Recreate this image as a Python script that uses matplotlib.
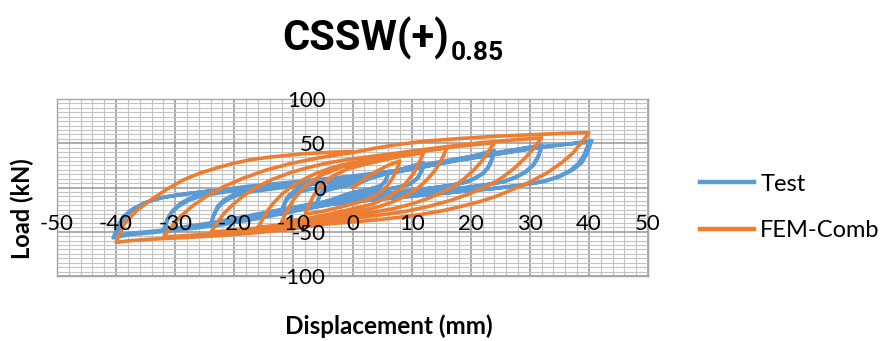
import matplotlib
matplotlib.use("Agg")
import matplotlib.pyplot as plt
from matplotlib.ticker import MultipleLocator
from matplotlib.lines import Line2D
import matplotlib.transforms as mtransforms

# ---------------- data ----------------
series_names = ["Test", "FEM-Comb"]
x_ticks = [-50, -40, -30, -20, -10, 0, 10, 20, 30, 40, 50]
y_ticks = [-100, -50, 0, 50, 100]

test_disp = [0, 1.5, 3, 4.5, 6,
             5.9, 5.5, 4.8, 3.6, 1.8, -0.6, -3.2, -6,
             -5.9, -5.5, -4.8, -3.6, -1.8, 0.6, 3.2, 6,
             5.9, 5.5, 4.8, 3.6, 1.8, -0.6, -3.2, -6,
             -5.8, -5.3, -4.2, -2.4, 0.3, 3.9, 7.9, 12,
             11.8, 11, 9.6, 7.2, 3.6, -1.2, -6.5, -12,
             -11.8, -11, -9.6, -7.2, -3.6, 1.2, 6.5, 12,
             11.8, 11, 9.6, 7.2, 3.6, -1.2, -6.5, -12,
             -11.6, -11.2, -10.6, -9.6, -8.4, -6.8, -4.8, -2, 0.6, 4, 7.8, 12, 15.7, 20, 24,
             23.5, 22.9, 22.1, 20.8, 19.2, 17, 14.4, 11, 7.2, 2.5, -2.4, -7.5, -13, -18.5, -24,
             -23.5, -22.9, -22.1, -20.8, -19.2, -17, -14.4, -11, -7.2, -2.5, 2.4, 7.5, 13, 18.5, 24,
             23.5, 22.9, 22.1, 20.8, 19.2, 17, 14.4, 11, 7.2, 2.5, -2.4, -7.5, -13, -18.5, -24,
             -23.4, -22.8, -21.8, -20.3, -18.4, -15.8, -12.8, -8.6, -4.4, 1, 6.8, 12, 17, 22, 27, 32,
             31.4, 30.6, 29.4, 27.7, 25.6, 22.5, 19.2, 14.5, 9.6, 3, -3.2, -9, -14, -19, -24, -28, -32,
             -31.4, -30.6, -29.4, -27.7, -25.6, -22.5, -19.2, -14.5, -9.6, -3, 3.2, 9, 14, 19, 24, 28, 32,
             31.4, 30.6, 29.4, 27.7, 25.6, 22.5, 19.2, 14.5, 9.6, 3, -3.2, -9, -14, -19, -24, -28, -32,
             -31.6, -31.3, -30.4, -29.1, -27, -24.75, -21, -17.5, -12, -6.6, 0, 7.9, 14, 19, 23.8, 29, 34, 38, 40.5,
             39.7, 38.8, 37.3, 35, 32.4, 28.5, 24.3, 18, 12.2, 4, -4.1, -10, -16, -22, -28, -34, -38, -40.5,
             -40.1, -39.7, -38.8, -37.3, -35, -32.5, -28.5, -24.4, -18, -12.3, -4, 3.8, 8, 13, 18.6, 24.3, 29.8, 35.4, 40,
             39.2, 38.2, 36.8, 34.5, 32, 28, 24, 18, 12, 4, -4, -10, -16, -22, -28, -34, -38, -40,
             -39.6, -39.2, -38.3, -37, -35, -32, -28, -24, -18, -12, -6, 0]
test_load = [0, 6, 10.5, 14.5, 18,
             13.1, 6.6, 2, -0.6, -3.3, -7.1, -13.5, -20,
             -15.2, -8.9, -4.5, -1.9, 0.7, 4.4, 10.7, 17,
             12.3, 6.2, 1.9, -0.6, -3.2, -6.8, -12.9, -19,
             -12.9, -4.9, 0.7, 4, 7.3, 12, 20, 28,
             20.5, 10.6, 3.6, -0.4, -4.5, -10.3, -20.1, -30,
             -22.6, -12.9, -6.1, -2.1, 1.9, 7.6, 17.3, 27,
             19.7, 10.2, 3.5, -0.4, -4.4, -10, -19.5, -29,
             -19.8, -12.5, -7.7, -3, 0.8, 3.5, 5.8, 8.3, 10.8, 14, 17.9, 23, 28.5, 35, 42,
             30.9, 22.5, 16.5, 11, 6.3, 3, 0.3, -2.5, -5.6, -9.5, -14.1, -20, -27, -34.5, -43,
             -32.2, -24, -18.1, -12.5, -8.1, -4.8, -2.3, 0.6, 3.5, 7.2, 11.8, 18, 25, 32.5, 40,
             29.5, 21.5, 15.7, 10.5, 6, 2.8, 0.3, -2.4, -5.4, -9.2, -13.5, -19.3, -26, -33, -41,
             -29.4, -21, -14.3, -8.5, -3.6, 0, 2.6, 5.8, 8.8, 13, 18.5, 24.5, 30.5, 36, 42, 48,
             35.3, 26, 18.6, 12, 6.8, 3, 0, -3.5, -6.9, -11.5, -16.7, -23, -29.5, -36, -41.5, -45.5, -50,
             -37.5, -28, -21.2, -14.5, -9.7, -6, -3, 0.5, 3.8, 8.5, 13.4, 20, 26.5, 32, 37, 41.5, 46,
             33.8, 25, 17.8, 11.5, 6.5, 2.8, -0.1, -3.4, -6.6, -11, -16, -22, -28, -34.5, -40, -44, -48,
             -42, -34.9, -26, -17.7, -10.5, -5.6, -1.5, 1.5, 5, 8.6, 13, 19.5, 26, 32, 37.5, 42.5, 47, 50.5, 53,
             38.7, 28, 20, 12, 6.8, 2.5, -0.9, -4.8, -8.6, -13.5, -19.6, -27, -35, -42, -47, -51, -53.5, -57,
             -50, -43, -33, -24.6, -17, -11.6, -7.5, -4.1, -0.5, 3.5, 8, 14.3, 20, 27, 33.5, 39.5, 45, 48.5, 51,
             37.2, 27, 19.2, 11.5, 6.5, 2.2, -0.9, -4.6, -8.4, -13.5, -19, -26, -33.5, -40, -45.5, -49.5, -52, -55,
             -48, -41, -32, -24, -17, -11, -7, -4, -0.5, 3, 5.5, 7]

fem_disp = [0, 2, 4, 6, 8,
            7.7, 6.9, 5.8, 4.2, 2.2, 0, -2.4, -5.1, -8,
            -7.6, -6.6, -5.2, -3.2, -0.8, 2, 5, 8.4, 12,
            11.5, 10.3, 8.6, 6.2, 3.4, 0, -3.6, -7.7, -12,
            -11.4, -10, -8.1, -5.3, -1.9, 2, 6.2, 11, 16,
            15.7, 15.4, 14.7, 13.8, 12.7, 11.5, 10, 8.3, 6.5, 4.5, 2.3, 0, -2.4, -4.8, -7.5, -10.2, -13, -16,
            -15.6, -15.2, -14.3, -13.2, -11.9, -10.4, -8.5, -6.4, -4.1, -1.6, 1.2, 4, 7, 10, 13.4, 16.8, 20.4, 24,
            23.5, 23, 21.9, 20.6, 19, 17.3, 15, 12.5, 9.7, 6.7, 3.4, 0, -3.6, -7.2, -11.2, -15.4, -19.6, -24,
            -23.5, -22.9, -21.7, -20.1, -18.3, -16.2, -13.6, -10.6, -7.3, -3.8, 0, 4, 8.2, 12.4, 17, 21.9, 27, 32,
            31.4, 30.7, 29.3, 27.5, 25.4, 23, 20, 16.6, 12.8, 9, 4.5, 0, -4.8, -9.6, -15, -20.5, -26, -32,
            -31.4, -30.6, -29, -27, -24.6, -21.9, -18.5, -14.7, -10.5, -6.1, -3, 0, 3.5, 7.5, 12.5, 18.6, 24, 29.8, 35, 40,
            39.5, 38.7, 37.3, 35.4, 32.8, 29.8, 27, 24.3, 21.5, 18.6, 15.8, 13, 10.2, 7.5, 4.6, 1.8, -1, -4, -7.6,
            -11.6, -17, -22.8, -28.5, -34, -37.5, -40,
            -39.8, -39.6, -38.5, -36.5, -34, -31.3, -28.5, -25.7, -22.8, -20, -17.2, -14.4, -11.6, -8.8, -6, -3, 0]
fem_load = [0, 10, 18, 25, 30,
            24, 12, 1.2, -7.8, -14.4, -18.6, -22.8, -27, -30,
            -23.1, -9.3, 3.1, 13.5, 21.1, 25.9, 30.7, 35.6, 39,
            31.2, 15.6, 1.6, -10.1, -18.7, -24.2, -29.6, -35.1, -39,
            -30.6, -13.8, 1.3, 13.9, 23.2, 29, 34.9, 40.8, 45,
            41, 36, 27, 18, 9.5, 1.8, -5.3, -11.7, -17, -21.6, -25, -27.9, -31, -34.2, -37.4, -40.5, -43, -45,
            -41, -35.4, -25.5, -16.3, -7.5, 0.8, 8.3, 15.2, 21, 25.7, 29.3, 32.4, 35.7, 39, 42.4, 45.7, 48.3, 50.5,
            46, 40.4, 30, 20.2, 10.5, 2, -6, -13.1, -19.2, -24.2, -28, -31.3, -34.9, -38.4, -42, -45.5, -48.2, -50.5,
            -46, -39.8, -29, -18.5, -8.5, 0.6, 9, 16.6, 23, 28.3, 32.3, 35.8, 39.5, 43.2, 47, 50.7, 53.6, 56,
            51, 44.8, 34, 22.4, 11.5, 2.2, -6.5, -14.6, -21.5, -26.9, -31.2, -34.7, -38.7, -42.6, -46.8, -50.4, -53.4, -56,
            -51, -44.2, -32, -20.6, -9.5, 0.6, 10.5, 19.5, 27, 33, 36.5, 39.5, 44, 48.5, 52.5, 55.5, 57.8, 59.5, 61, 62,
            57, 50.5, 39, 28, 16, 5.6, -2.5, -10, -16, -21, -25.5, -29, -31.8, -34, -36.2, -38, -39.5, -41, -44.3,
            -48, -51.5, -54.5, -56.6, -58.4, -60, -62,
            -59, -55, -40, -26, -13.5, -1.5, 9, 16.5, 22.5, 27.5, 31.5, 34, 36, 37.8, 39, 40, 40.5]

# ---------------- style ----------------
W, H, DPI = 883, 341, 100
c_test = "#5B9BD5"
c_fem = "#ED7D31"
font = ["Lato", "DejaVu Sans"]
plt.rcParams["font.family"] = font

fig = plt.figure(figsize=(W / DPI, H / DPI), dpi=DPI)
ax = fig.add_axes([57 / W, 1 - 276 / H, 591 / W, 177 / H])

ax.plot(test_disp, test_load, color=c_test, lw=2.6, solid_joinstyle="round",
        solid_capstyle="round", zorder=3)
ax.plot(fem_disp, fem_load, color=c_fem, lw=2.6, solid_joinstyle="round",
        solid_capstyle="round", zorder=4)

ax.set_xlim(-50, 50)
ax.set_ylim(-100, 100)
ax.set_xticks(x_ticks)
ax.set_yticks(y_ticks)
ax.xaxis.set_minor_locator(MultipleLocator(2))
ax.yaxis.set_minor_locator(MultipleLocator(5))
ax.grid(which="minor", color="#C4C4C4", lw=0.8, zorder=0)
ax.grid(which="major", color="#969696", lw=1.1, zorder=1)
ax.set_axisbelow(True)
ax.tick_params(which="both", length=0, labelbottom=False, labelleft=False)
for s in ax.spines.values():
    s.set_color("#A6A6A6")
    s.set_linewidth(1.0)

# tick labels (Excel style, axes crossing at origin)
tx = mtransforms.blended_transform_factory(ax.transData, fig.transFigure)
for v in x_ticks:
    ax.text(v, 1 - 230 / H, str(v), transform=tx, ha="center", va="baseline",
            fontsize=16, color="black", clip_on=False, zorder=6)
ty = mtransforms.blended_transform_factory(fig.transFigure, ax.transData) + \
    mtransforms.ScaledTranslation(0, -8 / DPI, fig.dpi_scale_trans)
for v in y_ticks:
    ax.text(326 / W, v, str(v), transform=ty, ha="right", va="baseline",
            fontsize=16, color="black", clip_on=False, zorder=6)

# axis titles
fig.text(22 / W, 1 - 209 / H, "Load (kN)", rotation=90, ha="center", va="center",
         fontsize=17, fontweight="bold")
fig.text(389 / W, 1 - 326 / H, "Displacement (mm)", ha="center", va="center",
         fontsize=17.5, fontweight="bold")

# title with subscript
tfont = ["Roboto", "DejaVu Sans"]
t1 = fig.text(282 / W, 1 - 50 / H, "CSSW(+)", ha="left", va="baseline",
              fontsize=30, fontweight="bold", family=tfont)
fig.canvas.draw()
fig.text(0, 0, "")
sub = plt.annotate("0.85", xy=(1, 1 - 60 / H), xycoords=(t1, "figure fraction"),
                   xytext=(1.5, 0), textcoords="offset points",
                   ha="left", va="baseline", fontsize=19, fontweight="bold",
                   family=tfont, annotation_clip=False)

# legend
handles = [Line2D([], [], color=c_test, lw=3.2), Line2D([], [], color=c_fem, lw=3.2)]
fig.legend(handles, series_names, loc="center left",
           bbox_to_anchor=(700 / W, 1 - 207.5 / H), frameon=False, fontsize=17,
           handlelength=2.3, handletextpad=0.25, labelspacing=1.1, borderpad=0,
           borderaxespad=0)

fig.savefig("out.png", dpi=DPI)
